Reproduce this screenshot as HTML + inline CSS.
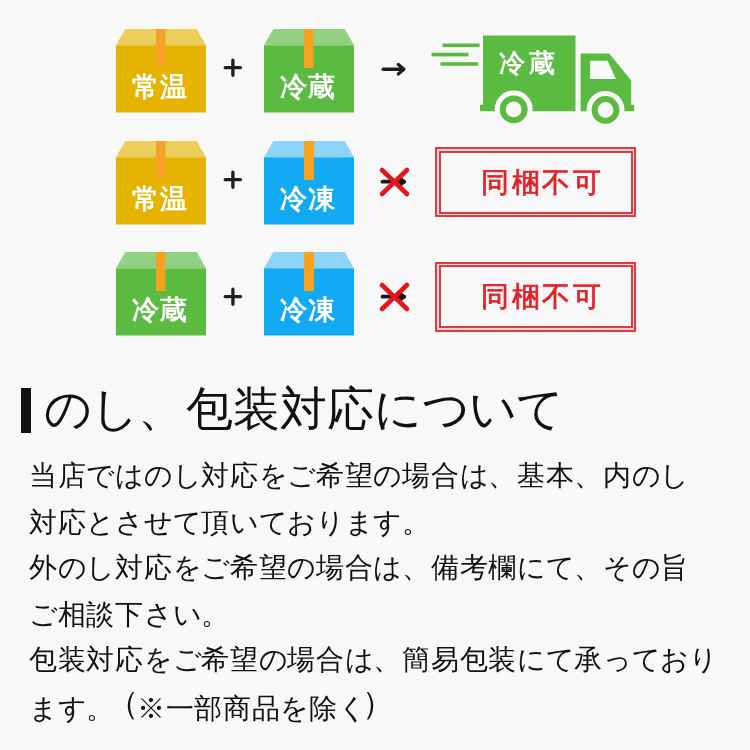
<!DOCTYPE html>
<html lang="ja">
<head>
<meta charset="utf-8">
<style>
html,body{margin:0;padding:0;}
body{width:750px;height:750px;background:#f8f8f8;position:relative;overflow:hidden;font-family:"Liberation Sans",sans-serif;}
.line,h1,.bt,.st,.tt{will-change:transform;}
.abs{position:absolute;}
.box{position:absolute;width:90px;height:84px;}
.box svg{display:block;}
.bt{position:absolute;left:-1px;width:90px;text-align:center;color:#fff;font-weight:bold;font-size:27px;line-height:30px;letter-spacing:1px;white-space:nowrap;}
.stamp{position:absolute;left:435px;width:197px;height:66px;border:2px solid #de3a42;background:#f9d8d9;}
.stamp .in{position:absolute;left:1.5px;top:1.5px;right:1.5px;bottom:1.5px;border:2px solid #de3a42;background:#f8f8f8;}
.st{position:absolute;left:44px;text-align:left;color:#e1232b;font-weight:normal;-webkit-text-stroke:0.75px #e1232b;font-size:28px;line-height:30px;letter-spacing:2.5px;white-space:nowrap;}
.line{position:absolute;left:28.6px;color:#111;font-size:28px;line-height:30px;white-space:nowrap;letter-spacing:0.700px;}
.line .k{letter-spacing:-0.300px;}
.line .pl{position:relative;left:-8.5px;top:-4px;font-size:32px;letter-spacing:-10.3px;}
.line .pr{position:relative;left:-4.5px;top:-4px;font-size:32px;}
h1{position:absolute;margin:0;left:44.3px;top:384.3px;font-weight:normal;font-size:47px;line-height:50px;color:#111;white-space:nowrap;letter-spacing:0.200px;}
h1 .k{letter-spacing:-0.800px;}
.bar{position:absolute;left:21px;top:388px;width:10px;height:45px;background:#111;}
</style>
</head>
<body>

<!-- Row 1 -->
<div class="box" style="left:116px;top:28.5px;">
  <svg width="90" height="84" viewBox="0 0 90 84"><polygon points="9.3,0 80.8,0 90,16.3 0,16.3" fill="#ecce5a"/><rect x="0" y="16.3" width="90" height="67.2" fill="#e6b300"/><rect x="40" y="0" width="9.5" height="36.5" fill="#f5a22a"/></svg>
  <div class="bt" style="top:43px;">常温</div>
</div>
<svg class="abs" style="left:222px;top:57px" width="22" height="22" viewBox="0 0 22 22"><path d="M3.2 10.6 H18.6 M10.9 3.2 V18.3" stroke="#1e1e1e" stroke-width="3.3" stroke-linecap="round"/></svg>
<div class="box" style="left:264px;top:29px;">
  <svg width="90" height="84" viewBox="0 0 90 84"><polygon points="9.3,0 80.8,0 90,16.3 0,16.3" fill="#91d181"/><rect x="0" y="16.3" width="90" height="67.2" fill="#5abb40"/><rect x="40" y="0" width="9.5" height="39" fill="#f6a11f"/></svg>
  <div class="bt" style="top:43px;">冷蔵</div>
</div>
<svg class="abs" style="left:378px;top:60px" width="32" height="20" viewBox="0 0 32 20"><path d="M5.2 9.3 H25.5" stroke="#1e1e1e" stroke-width="3.5" stroke-linecap="round"/><path d="M20.3 4.6 L25.8 9.3 L20.3 14" stroke="#1e1e1e" stroke-width="3.3" fill="none" stroke-linecap="round" stroke-linejoin="round"/></svg>

<!-- truck -->
<svg class="abs" style="left:425px;top:30px" width="215" height="105" viewBox="425 30 215 105">
  <g fill="#5bba40">
    <rect x="442.5" y="43.5" width="37" height="3.6"/>
    <rect x="431.5" y="52.8" width="37" height="3.6"/>
    <rect x="440.5" y="62.2" width="37.5" height="3.6"/>
    <path d="M483 35.5 H575.5 V111.3 H480 V104.8 H483 Z"/>
    <path d="M580.6 53.5 H609.2 L631.2 80.6 V104.8 H634.2 V111.3 H580.6 Z"/>
  </g>
  <g fill="#f8f8f8">
    <path d="M590.1 60.8 H607.7 L615.8 79.1 H590.1 Z"/>
    <circle cx="513.7" cy="109.4" r="19"/>
    <circle cx="605.5" cy="110" r="19"/>
  </g>
  <circle cx="513.7" cy="109.4" r="10.9" fill="none" stroke="#5bba40" stroke-width="6"/>
  <circle cx="605.5" cy="110" r="10.9" fill="none" stroke="#5bba40" stroke-width="6"/>
</svg>
<div class="abs tt" style="left:498.5px;top:47.5px;color:#fff;font-weight:bold;font-size:26px;line-height:30px;letter-spacing:4.2px;white-space:nowrap;">冷蔵</div>

<!-- Row 2 -->
<div class="box" style="left:116px;top:141px;">
  <svg width="90" height="84" viewBox="0 0 90 84"><polygon points="9.3,0 80.8,0 90,16.3 0,16.3" fill="#ecce5a"/><rect x="0" y="16.3" width="90" height="67.2" fill="#e6b300"/><rect x="40" y="0" width="9.5" height="36.5" fill="#f5a22a"/></svg>
  <div class="bt" style="top:43px;">常温</div>
</div>
<svg class="abs" style="left:222px;top:169.4px" width="22" height="22" viewBox="0 0 22 22"><path d="M3.2 10.6 H18.6 M10.9 3.2 V18.3" stroke="#1e1e1e" stroke-width="3.3" stroke-linecap="round"/></svg>
<div class="box" style="left:264px;top:141px;">
  <svg width="90" height="84" viewBox="0 0 90 84"><polygon points="9.3,0 80.8,0 90,16.3 0,16.3" fill="#8dd4f8"/><rect x="0" y="16.3" width="90" height="67.2" fill="#12a9f3"/><rect x="40" y="0" width="10" height="39" fill="#f6a11f"/></svg>
  <div class="bt" style="top:43px;">冷凍</div>
</div>
<svg class="abs" style="left:376px;top:164px" width="38" height="36" viewBox="0 0 38 36">
  <path d="M6.5 17.7 H28" stroke="#1a1a1a" stroke-width="3.8" stroke-linecap="round"/>
  <path d="M24.5 14.8 L28.5 17.7 L24.5 20.6" stroke="#1a1a1a" stroke-width="3.2" fill="none" stroke-linecap="round" stroke-linejoin="round"/>
  <path d="M6 6 L31 30 M31 6 L6 30" stroke="#e8141c" stroke-width="4.6" stroke-linecap="round"/>
</svg>
<div class="stamp" style="top:147px;"><div class="in"></div><div class="st" style="top:18.5px;">同梱不可</div></div>

<!-- Row 3 -->
<div class="box" style="left:116px;top:252px;">
  <svg width="90" height="84" viewBox="0 0 90 84"><polygon points="9.3,0 80.8,0 90,16.3 0,16.3" fill="#91d181"/><rect x="0" y="16.3" width="90" height="67.2" fill="#5abb40"/><rect x="40" y="0" width="9.5" height="39" fill="#f6a11f"/></svg>
  <div class="bt" style="top:43px;">冷蔵</div>
</div>
<svg class="abs" style="left:222px;top:285.5px" width="22" height="22" viewBox="0 0 22 22"><path d="M3.2 10.6 H18.6 M10.9 3.2 V18.3" stroke="#1e1e1e" stroke-width="3.3" stroke-linecap="round"/></svg>
<div class="box" style="left:264px;top:252px;">
  <svg width="90" height="84" viewBox="0 0 90 84"><polygon points="9.3,0 80.8,0 90,16.3 0,16.3" fill="#8dd4f8"/><rect x="0" y="16.3" width="90" height="67.2" fill="#12a9f3"/><rect x="40" y="0" width="10" height="39" fill="#f6a11f"/></svg>
  <div class="bt" style="top:43px;">冷凍</div>
</div>
<svg class="abs" style="left:376px;top:279px" width="38" height="36" viewBox="0 0 38 36">
  <path d="M6.5 17.7 H28" stroke="#1a1a1a" stroke-width="3.8" stroke-linecap="round"/>
  <path d="M24.5 14.8 L28.5 17.7 L24.5 20.6" stroke="#1a1a1a" stroke-width="3.2" fill="none" stroke-linecap="round" stroke-linejoin="round"/>
  <path d="M6 6 L31 30 M31 6 L6 30" stroke="#e8141c" stroke-width="4.6" stroke-linecap="round"/>
</svg>
<div class="stamp" style="top:261.5px;"><div class="in"></div><div class="st" style="top:18.5px;">同梱不可</div></div>

<!-- Heading -->
<div class="bar"></div>
<h1><span class="k">のし</span>、包装対応<span class="k">について</span></h1>

<div class="line" style="top:461.3px;">当店<span class="k">ではのし</span>対応<span class="k">をご</span>希望<span class="k">の</span>場合<span class="k">は</span>、基本、内<span class="k">のし</span></div>
<div class="line" style="top:507.5px;">対応<span class="k">とさせて</span>頂<span class="k">いております</span>。</div>
<div class="line" style="top:553.4px;">外<span class="k">のし</span>対応<span class="k">をご</span>希望<span class="k">の</span>場合<span class="k">は</span>、備考欄<span class="k">にて</span>、<span class="k">その</span>旨</div>
<div class="line" style="top:599.6px;"><span class="k">ご</span>相談下<span class="k">さい</span>。</div>
<div class="line" style="top:645.2px;">包装対応<span class="k">をご</span>希望<span class="k">の</span>場合<span class="k">は</span>、簡易包装<span class="k">にて</span>承<span class="k">っており</span></div>
<div class="line" style="top:691.5px;"><span class="k">ます</span>。<span class="pl">（</span>※一部商品<span class="k">を</span>除<span class="k">く</span><span class="pr">）</span></div>

</body>
</html>
